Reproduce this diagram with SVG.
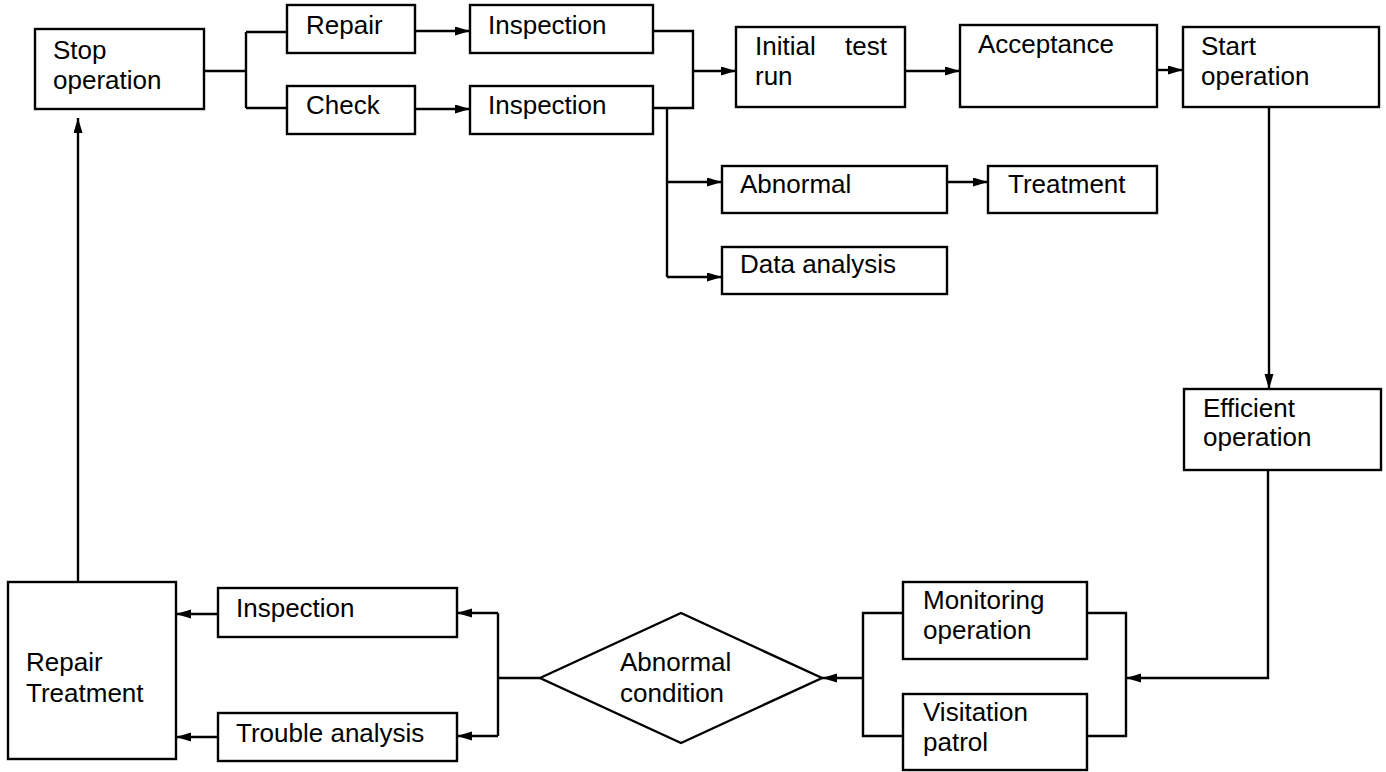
<svg xmlns="http://www.w3.org/2000/svg" width="1386" height="772" viewBox="0 0 1386 772">
  <style>
    .box { fill: #fff; stroke: #000; stroke-width: 2.4; }
    .lbl { font-family: "Liberation Sans", Arial, sans-serif; font-size: 26px; fill: #000; }
    .wire { fill: none; stroke: #000; stroke-width: 2.4; }
  </style>
  <defs>
    <marker id="arrow" markerUnits="userSpaceOnUse" markerWidth="16" markerHeight="10" refX="15" refY="4.5" orient="auto">
      <path d="M0,0 L15,4.5 L0,9 z" fill="#000"/>
    </marker>
  </defs>
  <rect width="1386" height="772" fill="#fff"/>

  <!-- connectors -->
  <g id="connectors" class="wire">
    <!-- stop operation splits to repair / check -->
    <path d="M204,71 H246 M246,32 V108 M246,32 H287 M246,108 H287"/>
    <path d="M415,31 H470" marker-end="url(#arrow)"/>
    <path d="M415,109 H470" marker-end="url(#arrow)"/>
    <!-- inspections merge into initial test run -->
    <path d="M653,31 H693 V108 H653"/>
    <path d="M693,71 H736" marker-end="url(#arrow)"/>
    <!-- inspection branches down -->
    <path d="M667,108 V277"/>
    <path d="M667,182 H722" marker-end="url(#arrow)"/>
    <path d="M667,277 H722" marker-end="url(#arrow)"/>
    <path d="M947,182 H988" marker-end="url(#arrow)"/>
    <path d="M905,71 H960" marker-end="url(#arrow)"/>
    <path d="M1157,70 H1183" marker-end="url(#arrow)"/>
    <path d="M1269,104 V389" marker-end="url(#arrow)"/>
    <!-- efficient operation to monitoring / patrol -->
    <path d="M1268,470 V678 H1126" marker-end="url(#arrow)"/>
    <path d="M1087,613 H1126 V736 H1087"/>
    <path d="M903,613 H863 V736 H903"/>
    <path d="M863,678 H822" marker-end="url(#arrow)"/>
    <!-- abnormal condition splits -->
    <path d="M540,678 H498 M498,613 V736"/>
    <path d="M498,613 H457" marker-end="url(#arrow)"/>
    <path d="M498,736 H457" marker-end="url(#arrow)"/>
    <path d="M218,614 H176" marker-end="url(#arrow)"/>
    <path d="M218,737 H176" marker-end="url(#arrow)"/>
    <!-- back to stop operation -->
    <path d="M78,582 V118" marker-end="url(#arrow)"/>
  </g>

  <g id="stop-operation">
    <rect class="box" x="35" y="29" width="169" height="80"/>
    <text class="lbl" x="53" y="59">Stop</text>
    <text class="lbl" x="53" y="89">operation</text>
  </g>
  <g id="repair">
    <rect class="box" x="287" y="5" width="128" height="48"/>
    <text class="lbl" x="306" y="34">Repair</text>
  </g>
  <g id="check">
    <rect class="box" x="287" y="86" width="128" height="48"/>
    <text class="lbl" x="306" y="114">Check</text>
  </g>
  <g id="inspection-1">
    <rect class="box" x="470" y="5" width="183" height="48"/>
    <text class="lbl" x="488" y="34">Inspection</text>
  </g>
  <g id="inspection-2">
    <rect class="box" x="470" y="86" width="183" height="48"/>
    <text class="lbl" x="488" y="114">Inspection</text>
  </g>
  <g id="initial-test-run">
    <rect class="box" x="736" y="27" width="169" height="80"/>
    <text class="lbl"><tspan x="755" y="55">Initial</tspan><tspan x="845" y="55">test</tspan></text>
    <text class="lbl" x="755" y="85">run</text>
  </g>
  <g id="acceptance">
    <rect class="box" x="960" y="25" width="197" height="82"/>
    <text class="lbl" x="978" y="53">Acceptance</text>
  </g>
  <g id="start-operation">
    <rect class="box" x="1183" y="27" width="196" height="80"/>
    <text class="lbl" x="1201" y="55">Start</text>
    <text class="lbl" x="1201" y="85">operation</text>
  </g>
  <g id="abnormal">
    <rect class="box" x="722" y="166" width="225" height="47"/>
    <text class="lbl" x="740" y="193">Abnormal</text>
  </g>
  <g id="treatment">
    <rect class="box" x="988" y="166" width="169" height="47"/>
    <text class="lbl" x="1008" y="193">Treatment</text>
  </g>
  <g id="data-analysis">
    <rect class="box" x="722" y="247" width="225" height="47"/>
    <text class="lbl" x="740" y="273">Data analysis</text>
  </g>
  <g id="efficient-operation">
    <rect class="box" x="1184" y="389" width="197" height="81"/>
    <text class="lbl" x="1203" y="417">Efficient</text>
    <text class="lbl" x="1203" y="446">operation</text>
  </g>
  <g id="monitoring-operation">
    <rect class="box" x="903" y="582" width="184" height="77"/>
    <text class="lbl" x="923" y="609">Monitoring</text>
    <text class="lbl" x="923" y="639">operation</text>
  </g>
  <g id="visitation-patrol">
    <rect class="box" x="903" y="694" width="184" height="76"/>
    <text class="lbl" x="923" y="721">Visitation</text>
    <text class="lbl" x="923" y="751">patrol</text>
  </g>
  <g id="abnormal-condition">
    <polygon class="box" points="540,678 681,613 822,678 681,743"/>
    <text class="lbl" x="620" y="671">Abnormal</text>
    <text class="lbl" x="620" y="702">condition</text>
  </g>
  <g id="inspection-3">
    <rect class="box" x="218" y="588" width="239" height="49"/>
    <text class="lbl" x="236" y="617">Inspection</text>
  </g>
  <g id="trouble-analysis">
    <rect class="box" x="218" y="713" width="239" height="48"/>
    <text class="lbl" x="236" y="742">Trouble analysis</text>
  </g>
  <g id="repair-treatment">
    <rect class="box" x="8" y="582" width="168" height="177"/>
    <text class="lbl" x="26" y="671">Repair</text>
    <text class="lbl" x="26" y="702">Treatment</text>
  </g>
</svg>
